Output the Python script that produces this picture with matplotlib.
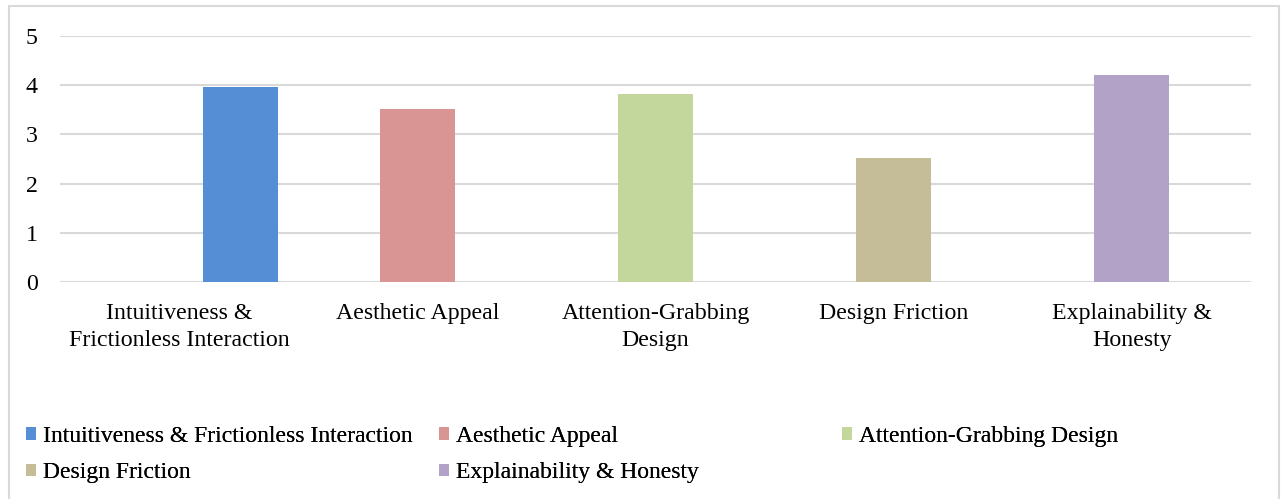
import numpy as np
import matplotlib.pyplot as plt
from matplotlib.patches import Rectangle

categories = ["Intuitiveness & Frictionless Interaction", "Aesthetic Appeal",
              "Attention-Grabbing Design", "Design Friction", "Explainability & Honesty"]
tick_labels = ["Intuitiveness &\nFrictionless Interaction", "Aesthetic Appeal",
               "Attention-Grabbing\nDesign", "Design Friction", "Explainability &\nHonesty"]
scores = [3.97, 3.52, 3.82, 2.52, 4.21]
colors = ["#558ed5", "#d99594", "#c3d69b", "#c4bd97", "#b3a2c7"]

plt.rcParams['font.family'] = ['Liberation Serif', 'DejaVu Serif']
fs = 17.2

fig = plt.figure(figsize=(12.83, 4.99), dpi=100)
ax = fig.add_axes([60 / 1283, 1 - 282 / 499, (1251 - 60) / 1283, (282 - 36) / 499])

# outer chart border
fig.patches.append(Rectangle((9 / 1283, -0.01), 1270 / 1283, 1 - 6 / 499 + 0.01,
                             transform=fig.transFigure, fill=False,
                             edgecolor="#d9d9d9", linewidth=1.5))

x = np.arange(len(categories))
shift = np.array([0.256, 0, 0, 0, 0])  # first bar sits off-centre in the original
handles = []
for i in range(len(categories)):
    b = ax.bar(x[i] + shift[i], scores[i], width=0.315, color=colors[i],
               label=categories[i], zorder=2)
    handles.append(b)

ax.set_xlim(-0.5, len(categories) - 0.5)
ax.set_ylim(0, 5)
ax.set_yticks(range(6))
ax.grid(axis='y', color="#d9d9d9", linewidth=1.5, zorder=0)
ax.set_axisbelow(True)
for s in ax.spines.values():
    s.set_visible(False)
ax.tick_params(axis='both', length=0, labelsize=fs, colors='black')
ax.tick_params(axis='y', pad=16)
ax.tick_params(axis='x', pad=15)
ax.set_xticks(x)
ax.set_xticklabels(tick_labels, linespacing=1.38)

# legend laid out row-wise in three columns, like the original
cols = [([0, 3], 26), ([1, 4], 439), ([2], 842)]
for idx, xpx in cols:
    leg = fig.legend([handles[i] for i in idx], [categories[i] for i in idx],
                     loc='upper left', bbox_to_anchor=(xpx / 1283, 1 - 426 / 499),
                     frameon=False, fontsize=17, handlelength=0.42, handleheight=0.42,
                     handletextpad=0.3, labelspacing=0.65, borderpad=0, borderaxespad=0)
    fig.add_artist(leg)

fig.savefig("out.png", dpi=100)
